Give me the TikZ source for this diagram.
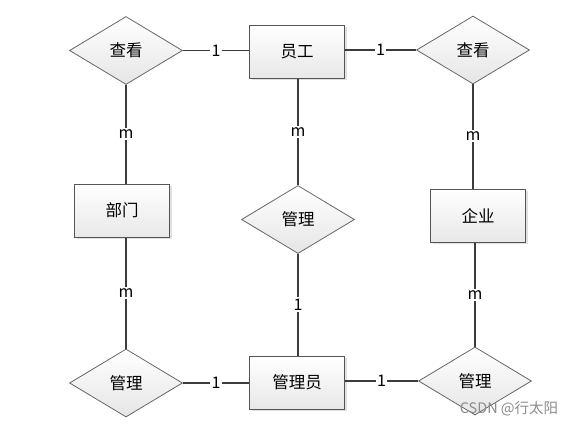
\documentclass[tikz,border=0pt]{standalone}
\usepackage{fontspec}
\setmainfont{Noto Sans CJK SC}
\usetikzlibrary{shapes.geometric,shadows}
\definecolor{edgec}{HTML}{3C3C3C}
\definecolor{borderc}{HTML}{555555}
\tikzset{
  entity/.style={rectangle, draw=borderc, line width=1pt, minimum width=95pt, minimum height=53pt,
    top color=white, bottom color=black!9, inner sep=0pt,
    drop shadow={shadow xshift=2pt, shadow yshift=-2pt, fill=black!12, opacity=1},
    font=\fontsize{16.5}{19}\selectfont},
  relation/.style={diamond, draw=black!60, line width=0.8pt, minimum width=113pt, minimum height=68pt,
    top color=white, bottom color=black!10, inner sep=0pt,
    font=\fontsize{16.5}{19}\selectfont},
  conn/.style={draw=edgec, line width=1.4pt},
  card/.style={fill=white, inner sep=1.5pt, font=\fontsize{16}{19}\selectfont, text=black}
}
\begin{document}
\begin{tikzpicture}[x=1pt,y=-1pt]
\useasboundingbox[fill=white] (0,0) rectangle (574,426);
% entities
\node[entity] (yg) at (297,51.5) {员工};
\node[entity] (bm) at (122,210.5) {部门};
\node[entity] (qy) at (478,215.5) {企业};
\node[entity] (gly) at (297,382.5) {管理员};
% relations
\node[relation] (ck1) at (126,50.5) {查看};
\node[relation] (ck2) at (473,50) {查看};
\node[relation] (gl1) at (298,219.5) {管理};
\node[relation] (gl2) at (126,383) {管理};
\node[relation] (gl3) at (475,381) {管理};
% connectors
\draw[conn] (ck1.east) -- node[card] (c1) {1} (yg.west |- ck1.east);
\draw[conn] (yg.east |- ck2.west) -- node[card] (c2) {1} (ck2.west);
\draw[conn] (ck1.south) -- node[card] (c3) {m} (ck1.south |- bm.north);
\draw[conn] (yg.south -| gl1.north) -- node[card] (c4) {m} (gl1.north);
\draw[conn] (ck2.south) -- node[card] (c5) {m} (ck2.south |- qy.north);
\draw[conn] (ck1.south |- bm.south) -- node[card] (c6) {m} (gl2.north);
\draw[conn] (gl1.south) -- node[card] (c7) {1} (gl1.south |- gly.north);
\draw[conn] (gl3.north |- qy.south) -- node[card] (c8) {m} (gl3.north);
\draw[conn] (gl2.east) -- node[card] (c9) {1} (gly.west |- gl2.east);
\draw[conn] (gly.east |- gl3.west) -- node[card] (c10) {1} (gl3.west);
% watermark
\node[text=black!45, font=\fontsize{14.5}{17}\selectfont, inner sep=0pt] (wm) at (509,409) {CSDN @行太阳};
\end{tikzpicture}
\end{document}
